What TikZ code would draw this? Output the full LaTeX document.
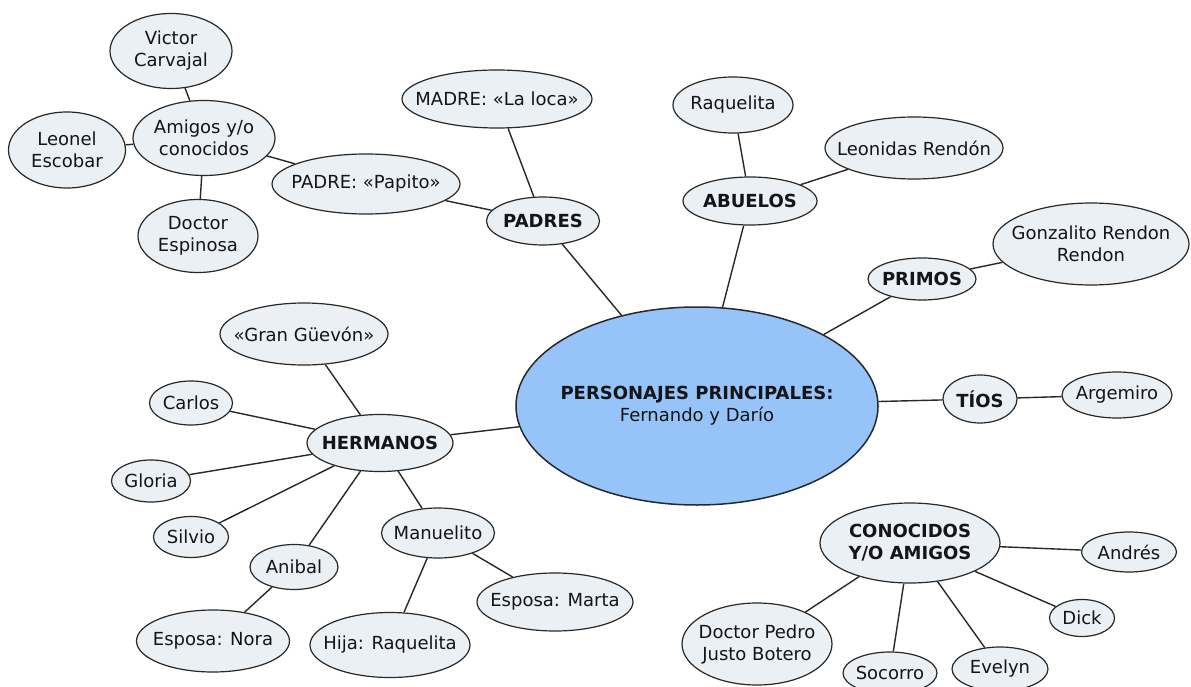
\documentclass[tikz,border=0pt]{standalone}
\usepackage{fontspec}
\setmainfont{DejaVu Sans}
\usetikzlibrary{shapes.geometric}
\definecolor{nodefill}{RGB}{234,240,243}
\definecolor{centerfill}{RGB}{150,196,248}
\definecolor{linec}{RGB}{40,40,40}
\definecolor{textc}{RGB}{20,20,25}
\newcommand{\nodefont}{\fontsize{18}{22}\selectfont}
\begin{document}
\begin{tikzpicture}[x=1pt,y=-1pt,
  concept/.style={ellipse, draw=linec, line width=1.2pt, fill=nodefill,
    inner xsep=-20pt, inner ysep=-6pt,
    align=center, font=\nodefont, text=textc},
  wh/.style 2 args={minimum width=#1pt, minimum height=#2pt},
  strong/.style={font=\nodefont\bfseries},
  link/.style={draw=linec, line width=1.4pt}]
\useasboundingbox[fill=white] (0,0) rectangle (1191,687);
% left upper cluster
\node[concept, wh={122}{75}] (victor) at (171,51) {Victor\\Carvajal};
\node[concept, wh={142}{75}] (amigos) at (204,138) {Amigos y/o\\conocidos};
\node[concept, wh={117}{76}] (leonel) at (67,150) {Leonel\\Escobar};
\node[concept, wh={120}{73}] (doctor) at (198,236) {Doctor\\Espinosa};
\node[concept, wh={188}{60}] (padre) at (366,184) {PADRE: «Papito»};
\node[concept, wh={190}{58}] (madre) at (497,99) {MADRE: «La loca»};
\node[concept, strong, wh={113}{48}] (padres) at (543,221) {PADRES};
% abuelos / primos
\node[concept, wh={120}{56}] (raquelita) at (733,105) {Raquelita};
\node[concept, wh={178}{62}] (leonidas) at (914,148) {Leonidas Rendón};
\node[concept, strong, wh={134}{48}] (abuelos) at (750,201) {ABUELOS};
\node[concept, wh={196}{82}] (gonzalito) at (1091,244) {Gonzalito Rendon\\Rendon};
\node[concept, strong, wh={108}{42}] (primos) at (922,279) {PRIMOS};
% central
\node[concept, fill=centerfill, line width=1.5pt, wh={362}{198}] (central) at (697,406)
  {{\bfseries PERSONAJES PRINCIPALES:}\\Fernando y Darío};
\node[concept, strong, wh={74}{48}] (tios) at (980,399) {TÍOS};
\node[concept, wh={110}{46}] (argemiro) at (1117,395) {Argemiro};
% hermanos
\node[concept, wh={168}{62}] (gran) at (304,334) {«Gran Güevón»};
\node[concept, wh={83}{44}] (carlos) at (191,403) {Carlos};
\node[concept, strong, wh={146}{57}] (hermanos) at (380,443) {HERMANOS};
\node[concept, wh={79}{42}] (gloria) at (151,481) {Gloria};
\node[concept, wh={75}{41}] (silvio) at (191,537) {Silvio};
\node[concept, wh={88}{45}] (anibal) at (294,567) {Anibal};
\node[concept, wh={113}{50}] (manuelito) at (438,533) {Manuelito};
\node[concept, wh={153}{62}] (nora) at (213,641) {Esposa: Nora};
\node[concept, wh={160}{65}] (hija) at (390,645) {Hija: Raquelita};
\node[concept, wh={156}{58}] (marta) at (555,602) {Esposa: Marta};
% conocidos
\node[concept, strong, wh={180}{80}] (conocidos) at (910,543) {CONOCIDOS\\Y/O AMIGOS};
\node[concept, wh={95}{40}] (andres) at (1129,552) {Andrés};
\node[concept, wh={65}{37}] (dick) at (1082,618) {Dick};
\node[concept, wh={96}{44}] (evelyn) at (1000,669) {Evelyn};
\node[concept, wh={94}{42}] (socorro) at (890,673) {Socorro};
\node[concept, wh={150}{82}] (pedro) at (757,644) {Doctor Pedro\\Justo Botero};
% connectors
\draw[link] (amigos) -- (victor);
\draw[link] (amigos) -- (leonel);
\draw[link] (amigos) -- (doctor);
\draw[link] (amigos) -- (padre);
\draw[link] (padre) -- (padres);
\draw[link] (madre) -- (padres);
\draw[link] (padres) -- (central);
\draw[link] (raquelita) -- (abuelos);
\draw[link] (leonidas) -- (abuelos);
\draw[link] (abuelos) -- (central);
\draw[link] (gonzalito) -- (primos);
\draw[link] (primos) -- (central);
\draw[link] (central) -- (tios);
\draw[link] (tios) -- (argemiro);
\draw[link] (hermanos) -- (central);
\draw[link] (gran) -- (hermanos);
\draw[link] (carlos) -- (hermanos);
\draw[link] (gloria) -- (hermanos);
\draw[link] (silvio) -- (hermanos);
\draw[link] (anibal) -- (hermanos);
\draw[link] (manuelito) -- (hermanos);
\draw[link] (anibal) -- (nora);
\draw[link] (manuelito) -- (hija);
\draw[link] (manuelito) -- (marta);
\draw[link] (conocidos) -- (andres);
\draw[link] (conocidos) -- (dick);
\draw[link] (conocidos) -- (evelyn);
\draw[link] (conocidos) -- (socorro);
\draw[link] (conocidos) -- (pedro);
\end{tikzpicture}
\end{document}
